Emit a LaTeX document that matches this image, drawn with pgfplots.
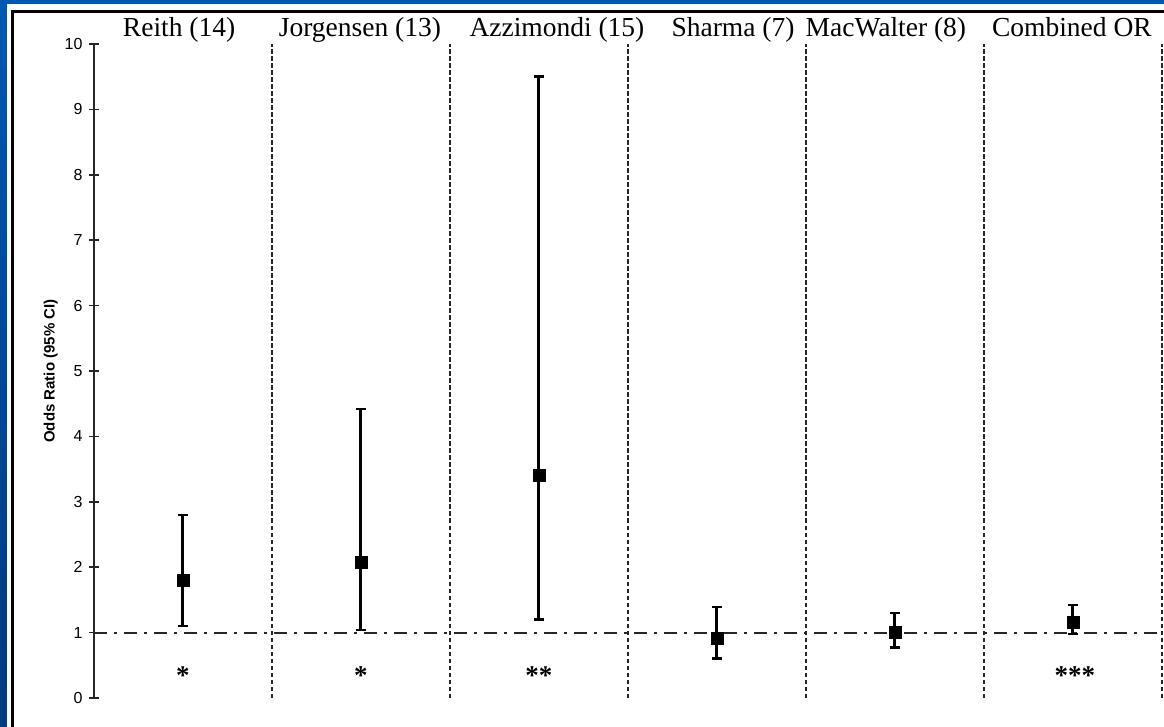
\documentclass[border=0pt]{standalone}
\usepackage{pgfplots}
\pgfplotsset{compat=1.18}
\usepackage{fontspec}
\setmainfont{Liberation Serif}
\newfontfamily\arial{Liberation Sans}
\definecolor{bgtop}{RGB}{0,88,176}
\definecolor{bgbot}{RGB}{0,58,128}

\pgfplotstableread{
x   y     ep    em
1   1.80  1.00  0.70
2   2.08  2.34  1.04
3   3.40  6.10  2.20
4   0.92  0.47  0.32
5   1.00  0.30  0.23
6   1.16  0.26  0.18
}\ortable

\begin{document}
\begin{tikzpicture}[x=1pt,y=1pt]
  \useasboundingbox (0,0) rectangle (1164,726);
  \shade[top color=bgtop, bottom color=bgbot] (0,0) rectangle (1164,726);
  \fill[white] (7,-2) rectangle (1166,722);
  \draw[line width=2.2pt] (12.5,-5) -- (12.5,714.5) -- (1170,714.5);

  \begin{axis}[
      at={(94pt,28pt)}, anchor=south west,
      scale only axis, width=1068pt, height=654pt,
      xmin=0.5, xmax=6.5, ymin=0, ymax=10,
      clip=false,
      axis x line=none,
      axis y line*=left,
      axis line style={line width=1.8pt, black!85},
      xtick=\empty,
      ytick={0,1,...,10},
      tick align=center,
      major tick length=10pt,
      tick style={line width=1.6pt, black!85},
      /pgf/number format/assume math mode=true,
      yticklabel style={font=\arial\fontsize{16}{16}\selectfont, xshift=-3pt},
      ylabel={Odds Ratio (95\% CI)},
      ylabel style={font=\arial\bfseries\fontsize{15}{15}\selectfont},
    ]
    % separators and reference line
    \foreach \s in {1.5,2.5,3.5,4.5,5.5,6.5} {
      \edef\tmp{\noexpand\draw[line width=2.3pt, dash pattern=on 4.5pt off 2.5pt, black!85]
        (axis cs:\s,0) -- (axis cs:\s,10);}
      \tmp
    }
    \draw[line width=2pt, black!85, dash pattern=on 13pt off 7pt on 3pt off 7pt]
      (axis cs:0.5,1) -- (axis cs:6.5,1);

    \addplot[only marks, mark=square*, mark size=6pt, black,
      error bars/.cd, y dir=both, y explicit,
      error bar style={line width=3pt, black},
      error mark options={rotate=90, mark size=5pt, line width=2.6pt, black}]
      table[x=x, y=y, y error plus=ep, y error minus=em] {\ortable};

    % study titles
    \begin{scope}[font=\fontsize{27.5}{30}\selectfont]
      \node[anchor=base] at (axis cs:0.978,10.12) {Reith (14)};
      \node[anchor=base] at (axis cs:1.994,10.12) {Jorgensen (13)};
      \node[anchor=base] at (axis cs:3.101,10.12) {Azzimondi (15)};
      \node[anchor=base] at (axis cs:4.090,10.12) {Sharma (7)};
      \node[anchor=base] at (axis cs:4.949,10.12) {MacWalter (8)};
      \node[anchor=base] at (axis cs:5.994,10.12) {Combined OR};
    \end{scope}
    % significance markers
    \begin{scope}[font=\bfseries\fontsize{27}{30}\selectfont]
      \node[anchor=base] at (axis cs:1,0.2) {*};
      \node[anchor=base] at (axis cs:2,0.2) {*};
      \node[anchor=base] at (axis cs:3,0.2) {**};
      \node[anchor=base] at (axis cs:6.01,0.2) {***};
    \end{scope}
  \end{axis}
\end{tikzpicture}
\end{document}
